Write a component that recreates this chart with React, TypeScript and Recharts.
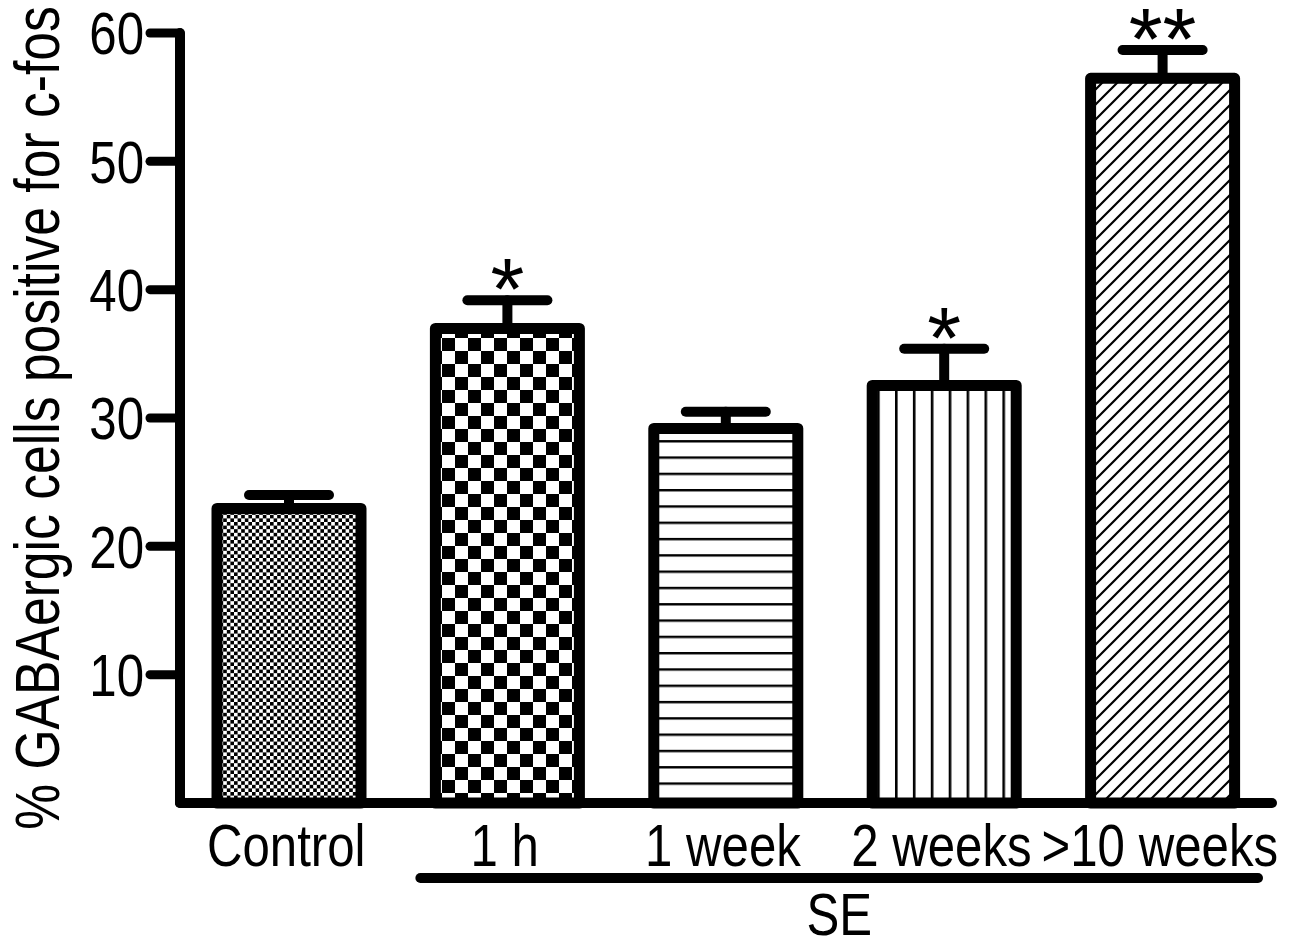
import React from "react";
import { BarChart, Bar, XAxis, YAxis, ErrorBar } from "recharts";

const categories = ["Control", "1 h", "1 week", "2 weeks", ">10 weeks"];
const means = [22.95, 36.98, 29.19, 32.54, 56.47];
const sems = [1.05, 2.2, 1.3, 2.85, 2.2];
const marks = ["", "*", "", "*", "**"];
const yTicks = [10, 20, 30, 40, 50, 60];
const patternIds = ["pat-fine", "pat-check", "pat-hlines", "pat-vlines", "pat-diag"];

const FONT = '"Liberation Sans", Arial, sans-serif';
const NARROW = 0.82; // squeeze to mimic Arial Narrow

const data = categories.map((name, i) => ({
  name,
  value: means[i],
  err: [0, sems[i]],
  sem: sems[i],
  mark: marks[i],
}));

// bar outline + pattern, star drawn above the SEM cap
const BarShape = (props: any) => {
  const { x, y, width, height, index, payload } = props;
  const pxPerUnit = height / payload.value;
  const capY = y - payload.sem * pxPerUnit;
  const cx = x + width / 2;
  return (
    <g>
      <rect
        x={x}
        y={y}
        width={width}
        height={height}
        fill={`url(#${patternIds[index]})`}
        stroke="#000"
        strokeWidth={11}
        strokeLinejoin="round"
      />
      {payload.mark && (
        <text
          x={cx}
          y={capY + 19}
          textAnchor="middle"
          fontSize={87}
          fontFamily={FONT}
          fill="#000"
        >
          {payload.mark}
        </text>
      )}
    </g>
  );
};

const XTick = (props: any) => {
  const { x, y, payload } = props;
  return (
    <text
      transform={`translate(${x - 3}, ${y}) scale(${NARROW}, 1)`}
      dy="0.71em"
      textAnchor="middle"
      fontSize={60}
      fontFamily={FONT}
      fill="#000"
    >
      {payload.value}
    </text>
  );
};

const YTick = (props: any) => {
  const { x, y, payload } = props;
  return (
    <text
      transform={`translate(${x}, ${y}) scale(${NARROW}, 1)`}
      dy="0.355em"
      textAnchor="end"
      fontSize={60}
      fontFamily={FONT}
      fill="#000"
    >
      {payload.value}
    </text>
  );
};

const YLabel = (props: any) => {
  const { viewBox } = props;
  const cy = viewBox.y + viewBox.height / 2;
  return (
    <text
      transform={`translate(${viewBox.x + 19}, ${cy}) rotate(-90) scale(${NARROW}, 1)`}
      textAnchor="middle"
      fontSize={63}
      fontFamily={FONT}
      fill="#000"
    >
      % GABAergic cells positive for c-fos
    </text>
  );
};

const SELabel = (props: any) => {
  const { viewBox } = props;
  const band = viewBox.width / categories.length;
  const x1 = viewBox.x + band + 22;
  const x2 = viewBox.x + band * categories.length - 14;
  return (
    <g>
      <line x1={x1} y1={878} x2={x2} y2={878} stroke="#000" strokeWidth={10} strokeLinecap="round" />
      <text
        transform={`translate(${(x1 + x2) / 2}, 935) scale(${NARROW}, 1)`}
        textAnchor="middle"
        fontSize={60}
        fontFamily={FONT}
        fill="#000"
      >
        SE
      </text>
    </g>
  );
};

export default function App() {
  return (
    <div style={{ position: "absolute", left: 0, top: 0, background: "#fff" }}>
      <BarChart
        width={1300}
        height={952}
        data={data}
        margin={{ top: 33, right: 28, bottom: 49, left: 40 }}
        barSize={144}
      >
        <defs>
          <pattern id="pat-fine" patternUnits="userSpaceOnUse" width={7.2} height={7.2}>
            <rect width={7.2} height={7.2} fill="#fff" />
            <rect x={0} y={0} width={3.6} height={3.6} fill="#000" />
            <rect x={3.6} y={3.6} width={3.6} height={3.6} fill="#000" />
          </pattern>
          <pattern id="pat-check" patternUnits="userSpaceOnUse" width={26} height={26}>
            <rect width={26} height={26} fill="#fff" />
            <rect x={0} y={0} width={13} height={13} fill="#000" />
            <rect x={13} y={13} width={13} height={13} fill="#000" />
          </pattern>
          <pattern id="pat-hlines" patternUnits="userSpaceOnUse" width={10} height={16.3}>
            <rect width={10} height={16.3} fill="#fff" />
            <rect x={0} y={0} width={10} height={2.4} fill="#000" />
          </pattern>
          <pattern id="pat-vlines" patternUnits="userSpaceOnUse" width={17.9} height={10}>
            <rect width={17.9} height={10} fill="#fff" />
            <rect x={0} y={0} width={2.6} height={10} fill="#000" />
          </pattern>
          <pattern id="pat-diag" patternUnits="userSpaceOnUse" width={15} height={15}>
            <rect width={15} height={15} fill="#fff" />
            <path
              d="M0,15 L15,0 M-3.75,3.75 L3.75,-3.75 M11.25,18.75 L18.75,11.25"
              stroke="#000"
              strokeWidth={2.2}
            />
          </pattern>
        </defs>
        <XAxis
          dataKey="name"
          height={100}
          axisLine={{ stroke: "#000", strokeWidth: 10, strokeLinecap: "round" }}
          tickLine={false}
          tickMargin={14}
          tick={<XTick />}
          interval={0}
          label={<SELabel />}
        />
        <YAxis
          width={140}
          domain={[0, 60]}
          ticks={yTicks}
          tickSize={30}
          tickMargin={6}
          axisLine={{ stroke: "#000", strokeWidth: 10, strokeLinecap: "round" }}
          tickLine={{ stroke: "#000", strokeWidth: 9, strokeLinecap: "round" }}
          tick={<YTick />}
          label={<YLabel />}
        />
        <Bar dataKey="value" shape={<BarShape />} isAnimationActive={false}>
          <ErrorBar
            dataKey="err"
            width={40}
            stroke="#000"
            strokeWidth={10}
            strokeLinecap="round"
            direction="y"
          />
        </Bar>
      </BarChart>
    </div>
  );
}
